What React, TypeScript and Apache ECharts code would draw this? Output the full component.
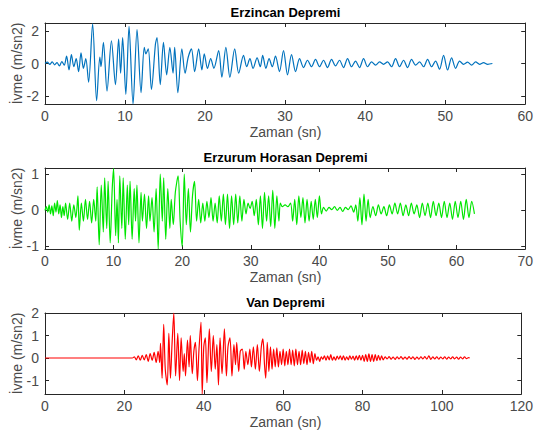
import React, { useEffect, useRef } from "react";
import * as echarts from "echarts";

// [time (s), acceleration (m/sn2)] turning points
const erzincan: [number, number][] = [
  [0, 0], [0.3, 0.08], [0.6, -0.05], [0.9, 0.1], [1.2, -0.08], [1.5, 0.05], [1.8, -0.15], [2.1, 0.12],
  [2.4, -0.1], [2.7, 0.45], [3.0, -0.4], [3.3, 0.55], [3.6, -0.2], [3.9, 0.3], [4.2, -0.5], [4.5, 0.65],
  [4.8, -0.3], [5.1, 0.3], [5.45, -1.15], [5.95, 2.45], [6.45, -2.3], [6.85, 0.4], [7.0, -0.2], [7.3, 1.3],
  [7.75, -1.7], [8.3, 1.4], [8.8, -1.3], [9.2, 1.5], [9.45, -0.6], [9.7, 1.6], [10.1, -1.9], [10.5, 2.3],
  [11.0, -2.5], [11.5, 2.1], [12.0, -1.8], [12.4, 1.0], [12.6, 0.6], [12.9, 0.9], [13.3, -1.6], [13.8, 1.2],
  [14.0, 1.6], [14.4, -1.3], [14.8, 1.3], [15.2, -0.7], [15.6, 1.0], [16.0, -0.6], [16.2, 1.0], [16.6, -1.8],
  [17.1, 0.9], [17.5, -0.6], [17.9, 0.4], [18.3, 0.9], [18.7, -0.5], [19.2, 0.9], [19.6, -0.4], [19.9, 0.6],
  [20.3, -0.3], [20.7, 0.3], [21.1, -0.3], [21.7, 0.8], [22.1, -0.85], [22.6, 1.0], [23.1, -0.85], [23.7, 0.9],
  [24.2, -0.6], [24.8, 0.5], [25.2, -0.2], [25.6, 0.3], [26.0, -0.3], [26.5, 0.35], [26.9, -0.2], [27.2, 0.5],
  [27.6, -0.3], [28.0, 0.3], [28.4, -0.2], [28.8, 0.45], [29.3, -0.5], [29.8, 0.8], [30.3, -0.7], [30.8, 0.55],
  [31.3, -0.5], [31.8, 0.3], [32.3, -0.25], [32.8, 0.2], [33.3, -0.2], [33.8, 0.25], [34.3, -0.2], [34.8, 0.2],
  [35.3, -0.25], [35.8, 0.25], [36.3, -0.15], [36.8, 0.2], [37.3, -0.25], [37.8, 0.3], [38.3, -0.2], [38.8, 0.15],
  [39.3, -0.25], [39.8, 0.3], [40.3, -0.2], [40.8, 0.1], [41.3, -0.1], [41.8, 0.1], [42.3, -0.05], [42.8, 0.1],
  [43.3, -0.2], [43.8, 0.3], [44.3, -0.2], [44.8, 0.2], [45.3, -0.25], [45.8, 0.25], [46.3, -0.1], [46.8, 0.1],
  [47.3, -0.2], [47.8, 0.25], [48.3, -0.2], [48.8, 0.15], [49.3, -0.35], [49.8, 0.5], [50.3, -0.4], [50.8, 0.35],
  [51.3, -0.3], [51.8, 0.15], [52.3, -0.05], [52.8, 0.08], [53.3, -0.1], [53.8, 0.1], [54.3, -0.05], [54.8, 0.05],
  [55.3, -0.05], [55.9, 0],
];

const erzurum: [number, number][] = [
  [0, 0], [0.2, 0.1], [0.4, -0.05], [0.6, 0.15], [0.8, -0.1], [1.0, 0.12], [1.2, -0.15], [1.4, 0.2],
  [1.6, -0.05], [1.8, 0.27], [2.0, -0.1], [2.2, 0.15], [2.4, -0.2], [2.6, 0.1], [2.8, -0.15], [3.0, 0.2],
  [3.3, -0.25], [3.6, 0.2], [3.9, -0.3], [4.2, 0.15], [4.5, -0.2], [4.8, 0.4], [5.0, -0.55], [5.3, 0.2],
  [5.6, -0.3], [5.9, 0.3], [6.2, -0.25], [6.5, 0.25], [6.8, -0.35], [7.1, 0.3], [7.4, -0.3], [7.6, 0.65],
  [7.9, -0.95], [8.2, 0.7], [8.5, -0.6], [8.7, 0.9], [9.0, -0.5], [9.2, 0.8], [9.5, -0.9], [9.8, 0.6],
  [10.0, 1.15], [10.3, -0.7], [10.5, 0.3], [10.7, -0.9], [10.9, 0.95], [11.2, -0.5], [11.4, 0.9], [11.7, -0.8],
  [12.0, 0.7], [12.2, -0.4], [12.4, 0.8], [12.7, -0.8], [13.0, 0.6], [13.2, -0.3], [13.4, 0.7], [13.7, -0.9],
  [14.0, 0.5], [14.2, -0.3], [14.5, 0.45], [14.8, -0.5], [15.1, 0.4], [15.3, -0.3], [15.6, 0.35], [15.9, -0.6],
  [16.2, 0.6], [16.5, -1.07], [16.8, 1.0], [17.1, -0.3], [17.3, 0.9], [17.6, -0.8], [17.9, 0.6], [18.2, -0.5],
  [18.4, 0.3], [18.7, -0.4], [19.0, 0.5], [19.4, 0.95], [19.7, -0.3], [20.0, -1.0], [20.3, 1.0], [20.6, -0.4],
  [20.9, 0.6], [21.2, -0.6], [21.5, 0.4], [21.8, 0.8], [22.1, -0.3], [22.4, 0.3], [22.7, -0.35], [23.0, 0.2],
  [23.3, -0.3], [23.6, 0.25], [23.9, -0.2], [24.2, 0.35], [24.5, -0.3], [24.8, 0.2], [25.1, -0.35], [25.4, 0.4],
  [25.7, -0.3], [26.0, 0.45], [26.3, -0.4], [26.6, 0.45], [26.9, -0.5], [27.2, 0.4], [27.5, -0.4], [27.8, 0.45],
  [28.1, -0.35], [28.4, 0.4], [28.7, -0.3], [29.0, 0.3], [29.3, -0.1], [29.6, 0.2], [29.9, 0.05], [30.2, 0.25],
  [30.5, -0.15], [30.8, 0.3], [31.1, -0.4], [31.4, 0.4], [31.7, -0.5], [32.0, 0.5], [32.3, -0.3], [32.6, 0.4],
  [32.9, -0.45], [33.2, 0.55], [33.5, -0.5], [33.8, 0.4], [34.1, -0.3], [34.3, 0.2], [34.6, 0.1], [35.0, 0.15],
  [35.4, 0.1], [35.8, 0.2], [36.1, -0.3], [36.4, 0.3], [36.7, -0.4], [37.0, 0.4], [37.3, -0.2], [37.6, 0.35],
  [37.9, -0.35], [38.2, 0.3], [38.5, -0.3], [38.8, 0.25], [39.1, -0.25], [39.4, 0.3], [39.7, -0.2], [40.0, 0.4],
  [40.3, -0.1], [40.6, 0.08], [41.0, -0.02], [41.4, 0.08], [41.8, 0.02], [42.2, 0.1], [42.6, 0.0], [43.0, 0.08],
  [43.4, -0.03], [43.8, 0.08], [44.2, 0.02], [44.6, 0.12], [45.0, -0.05], [45.3, 0.15], [45.6, -0.3], [45.9, 0.35],
  [46.2, -0.4], [46.5, 0.45], [46.8, -0.3], [47.1, 0.3], [47.4, -0.2], [47.8, 0.1], [48.2, -0.15], [48.6, 0.15],
  [49.0, -0.1], [49.4, 0.1], [49.8, -0.15], [50.2, 0.15], [50.6, -0.1], [51.0, 0.2], [51.4, -0.1], [51.8, 0.2],
  [52.2, -0.15], [52.6, 0.15], [53.0, -0.15], [53.4, 0.2], [53.8, -0.1], [54.2, 0.15], [54.6, -0.2], [55.0, 0.2],
  [55.4, -0.15], [55.8, 0.2], [56.2, -0.2], [56.6, 0.25], [57.0, -0.15], [57.4, 0.2], [57.8, -0.2], [58.2, 0.25],
  [58.6, -0.2], [59.0, 0.2], [59.4, -0.25], [59.8, 0.25], [60.2, -0.2], [60.6, 0.25], [61.0, -0.25], [61.4, 0.3],
  [61.8, -0.2], [62.2, 0.25], [62.6, -0.1],
];

const van: [number, number][] = [
  [0, 0], [22, 0], [22.5, 0.05], [23.0, -0.08], [23.5, 0.1], [24.0, -0.1], [24.5, 0.12], [25.0, -0.08],
  [25.5, 0.15], [26.0, -0.15], [26.5, 0.2], [27.0, -0.1], [27.5, 0.25], [28.0, -0.2], [28.5, 0.3], [28.9, -0.2],
  [29.1, 0.65], [29.5, -0.9], [29.9, 1.5], [30.3, -0.5], [30.8, -1.2], [31.2, 1.1], [31.6, -0.9], [32.0, 0.6],
  [32.45, 2.0], [32.9, -0.8], [33.45, 1.1], [33.9, -1.0], [34.3, 0.9], [34.8, -0.6], [35.1, 0.2], [35.4, -0.8],
  [35.9, 0.8], [36.3, -0.4], [36.6, 1.0], [37.1, -0.7], [37.5, 0.3], [37.9, 0.7], [38.4, -1.0], [38.8, 0.4],
  [39.3, 1.6], [39.6, -1.6], [40.0, 0.5], [40.4, 0.9], [40.8, -1.1], [41.4, 1.3], [41.9, -0.6], [42.4, 1.0],
  [42.9, -0.5], [43.3, 0.6], [43.7, -1.2], [44.1, 0.9], [44.6, -0.7], [45.2, 1.3], [45.7, -0.8], [46.1, 0.5],
  [46.6, 0.9], [47.1, -0.8], [47.6, 0.6], [48.0, -0.3], [48.3, 0.7], [48.8, -0.6], [49.2, 0.3], [49.7, 0.4],
  [50.2, -0.5], [50.6, 0.3], [51.1, -0.3], [51.6, 0.4], [52.0, -0.4], [52.5, 0.5], [53.0, -0.5], [53.5, 0.6],
  [54.0, -0.6], [54.5, 0.5], [54.9, 0.85], [55.3, -0.3], [55.6, -0.9], [56.0, 0.7], [56.4, -0.6], [56.8, 0.5],
  [57.2, -0.5], [57.6, 0.4], [58.0, -0.4], [58.4, 0.45], [58.8, -0.4], [59.2, 0.3], [59.6, -0.3], [60.0, 0.4],
  [60.4, -0.35], [60.8, 0.3], [61.2, -0.3], [61.6, 0.4], [62.0, -0.3], [62.4, 0.35], [62.8, -0.35], [63.2, 0.4],
  [63.6, -0.3], [64.0, 0.3], [64.4, -0.3], [64.8, 0.35], [65.2, -0.25], [65.6, 0.3], [66.0, -0.3], [66.4, 0.25],
  [66.8, -0.2], [67.2, 0.3], [67.6, -0.25], [68.0, 0.2], [68.4, -0.1], [68.8, 0.05], [69.2, -0.15], [69.6, 0.05],
  [70.0, -0.05], [70.4, 0.1], [70.8, -0.1], [71.2, 0.1], [71.6, -0.08], [72.0, 0.15], [72.4, -0.1], [72.8, 0.05],
  [73.2, -0.1], [73.6, 0.08], [74.0, -0.05], [74.4, 0.1], [74.8, -0.08], [75.2, 0.1], [75.6, -0.1], [76.0, 0.05],
  [76.4, -0.08], [76.8, 0.1], [77.2, -0.05], [77.6, 0.08], [78.0, -0.1], [78.4, 0.1], [78.8, -0.08], [79.2, 0.12],
  [79.6, -0.1], [80.0, 0.12], [80.4, -0.15], [80.8, 0.15], [81.2, -0.15], [81.6, 0.18], [82.0, -0.15], [82.4, 0.15],
  [82.8, -0.15], [83.2, 0.15], [83.6, -0.12], [84.0, 0.12], [84.4, -0.1], [84.8, 0.1], [85.2, -0.08], [85.7, 0.05],
  [86.2, -0.04], [86.7, 0.06], [87.2, -0.05], [87.7, 0.04], [88.2, -0.06], [88.7, 0.05], [89.2, -0.04], [89.7, 0.06],
  [90.2, -0.05], [90.7, 0.04], [91.2, -0.05], [91.7, 0.06], [92.2, -0.04], [92.7, 0.05], [93.2, -0.06], [93.7, 0.04],
  [94.2, -0.05], [94.7, 0.05], [95.2, -0.04], [95.7, 0.06], [96.2, -0.05], [96.7, 0.1], [97.2, -0.06], [97.7, 0.05],
  [98.2, -0.04], [98.7, 0.05], [99.2, -0.05], [99.7, 0.04], [100.2, -0.04], [100.7, 0.05], [101.2, -0.05], [101.7, 0.04],
  [102.2, -0.04], [102.7, 0.05], [103.2, -0.04], [103.7, 0.04], [104.2, -0.05], [104.7, 0.04], [105.2, -0.04], [105.7, 0.05],
  [106.2, -0.03], [106.7, 0.02], [107.0, 0],
];

const titles = ["Erzincan Depremi", "Erzurum Horasan Depremi", "Van Depremi"];
const seriesData = [erzincan, erzurum, van];
const xMaxes = [60, 70, 120];
const xSteps = [10, 10, 20];
const yMins = [-2.5, -1.07, -1.6];
const yMaxes = [2.5, 1.17, 2];
const yTicks = [[-2, 0, 2], [-1, 0, 1], [-1, 0, 1, 2]];
const colors = ["#0072BD", "#00E600", "#FF0000"];
const xName = "Zaman (sn)";
const yName = "İvme (m/sn2)";

const FONT = "'Liberation Sans', Arial, Helvetica, sans-serif";
const GRID_LEFT = 45;
const GRID_RIGHT = 10;
const GRID_H = 81;
const gridTops = [23, 168, 313];
const AXIS_COLOR = "#262626";
const LABEL_COLOR = "#4a4a4a";

export default function App() {
  const ref = useRef<HTMLDivElement>(null);

  useEffect(() => {
    if (!ref.current) return;
    const chart = echarts.init(ref.current, undefined, { renderer: "svg" });
    const plotCenterX = GRID_LEFT + (536 - GRID_LEFT - GRID_RIGHT) / 2;

    const xAxes: any[] = [];
    const yAxes: any[] = [];
    const graphics: any[] = [];

    gridTops.forEach((top, i) => {
      const common = {
        type: "value",
        gridIndex: i,
        splitLine: { show: false },
        axisLine: { show: true, onZero: false, lineStyle: { color: AXIS_COLOR, width: 1 } },
      };
      xAxes.push({
        ...common,
        position: "bottom",
        min: 0,
        max: xMaxes[i],
        interval: xSteps[i],
        axisTick: { show: true, inside: true, length: 4, lineStyle: { color: AXIS_COLOR } },
        axisLabel: { show: true, margin: 5, color: LABEL_COLOR, fontSize: 14, fontFamily: FONT },
      });
      xAxes.push({
        ...common,
        position: "top",
        min: 0,
        max: xMaxes[i],
        interval: xSteps[i],
        axisTick: { show: true, inside: true, length: 4, lineStyle: { color: AXIS_COLOR } },
        axisLabel: { show: false },
      });
      yAxes.push({
        ...common,
        position: "left",
        min: yMins[i],
        max: yMaxes[i],
        axisTick: { show: true, inside: true, length: 4, customValues: yTicks[i], lineStyle: { color: AXIS_COLOR } },
        axisLabel: { show: true, margin: 6, customValues: yTicks[i], color: LABEL_COLOR, fontSize: 14, fontFamily: FONT },
      });
      yAxes.push({
        ...common,
        position: "right",
        min: yMins[i],
        max: yMaxes[i],
        axisTick: { show: true, inside: true, length: 4, customValues: yTicks[i], lineStyle: { color: AXIS_COLOR } },
        axisLabel: { show: false },
      });

      graphics.push({
        type: "text",
        x: plotCenterX,
        y: top - 11,
        style: {
          text: titles[i],
          fill: "#000",
          fontSize: 13,
          fontWeight: "bold",
          fontFamily: FONT,
          align: "center",
          verticalAlign: "middle",
          textAlign: "center",
          textVerticalAlign: "middle",
        },
      });
      graphics.push({
        type: "text",
        x: plotCenterX,
        y: top + GRID_H + 28,
        style: {
          text: xName,
          fill: LABEL_COLOR,
          fontSize: 14,
          fontFamily: FONT,
          align: "center",
          verticalAlign: "middle",
          textAlign: "center",
          textVerticalAlign: "middle",
        },
      });
      graphics.push({
        type: "text",
        x: 17,
        y: top + GRID_H / 2,
        rotation: Math.PI / 2,
        style: {
          text: yName,
          fill: LABEL_COLOR,
          fontSize: 14,
          fontFamily: FONT,
          align: "center",
          verticalAlign: "middle",
          textAlign: "center",
          textVerticalAlign: "middle",
        },
      });
    });

    chart.setOption({
      animation: false,
      backgroundColor: "#ffffff",
      grid: gridTops.map((top) => ({
        left: GRID_LEFT,
        right: GRID_RIGHT,
        top,
        height: GRID_H,
        containLabel: false,
      })),
      xAxis: xAxes,
      yAxis: yAxes,
      series: seriesData.map((data, i) => ({
        type: "line",
        xAxisIndex: 2 * i,
        yAxisIndex: 2 * i,
        data,
        symbol: "none",
        showSymbol: false,
        smooth: 0.3,
        silent: true,
        clip: true,
        lineStyle: { color: colors[i], width: 1.2 },
        itemStyle: { color: colors[i] },
      })),
      graphic: graphics,
    });

    return () => chart.dispose();
  }, []);

  return (
    <div
      ref={ref}
      style={{ position: "fixed", left: 0, top: 0, width: 536, height: 441, background: "#fff" }}
    />
  );
}
